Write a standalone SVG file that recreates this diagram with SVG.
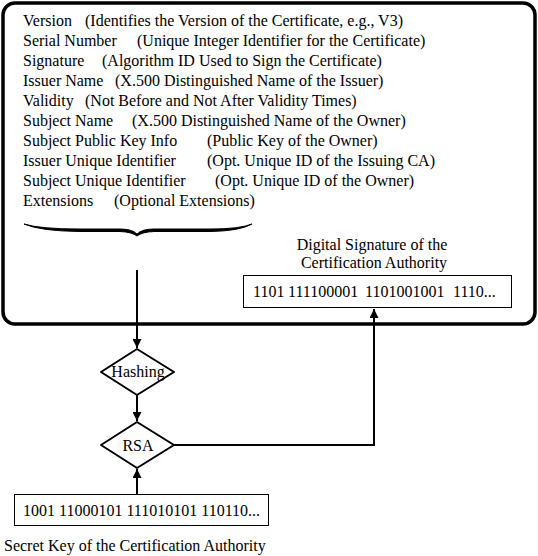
<svg xmlns="http://www.w3.org/2000/svg" width="538" height="556" viewBox="0 0 538 556">
<defs>
<style>
text{font-family:"Liberation Serif","Times New Roman",serif;font-size:16px;fill:#000}
.box{fill:#fff;stroke:#000;stroke-width:1}
.dia{fill:#fff;stroke:#000;stroke-width:2;stroke-linejoin:round}
.conn{fill:none;stroke:#000;stroke-width:2}
</style>
<marker id="ah" viewBox="0 0 10 10" refX="10" refY="5" markerWidth="5" markerHeight="4.5" orient="auto" markerUnits="strokeWidth">
<path d="M0,0 L10,5 L0,10 z" fill="#000"/>
</marker>
</defs>
<rect width="538" height="556" fill="#fff"/>
<g id="certificate">
<rect x="3" y="3" width="532" height="321" rx="12" ry="12" fill="#fff" stroke="#000" stroke-width="3.5"/>
<text y="26"><tspan x="23">Version</tspan><tspan x="85">(Identifies the Version of the Certificate, e.g., V3)</tspan></text>
<text y="46"><tspan x="23">Serial Number</tspan><tspan x="137">(Unique Integer Identifier for the Certificate)</tspan></text>
<text y="66"><tspan x="23">Signature</tspan><tspan x="102">(Algorithm ID Used to Sign the Certificate)</tspan></text>
<text y="86"><tspan x="23">Issuer Name</tspan><tspan x="115">(X.500 Distinguished Name of the Issuer)</tspan></text>
<text y="106"><tspan x="23">Validity</tspan><tspan x="85">(Not Before and Not After Validity Times)</tspan></text>
<text y="126"><tspan x="23">Subject Name</tspan><tspan x="132">(X.500 Distinguished Name of the Owner)</tspan></text>
<text y="146"><tspan x="23">Subject Public Key Info</tspan><tspan x="207">(Public Key of the Owner)</tspan></text>
<text y="166"><tspan x="23">Issuer Unique Identifier</tspan><tspan x="207">(Opt. Unique ID of the Issuing CA)</tspan></text>
<text y="186"><tspan x="23">Subject Unique Identifier</tspan><tspan x="215">(Opt. Unique ID of the Owner)</tspan></text>
<text y="206"><tspan x="23">Extensions</tspan><tspan x="114">(Optional Extensions)</tspan></text>
<path d="M24,224 Q40,229 80,229 L120,229 Q132,229 137,234 Q142,229 154,229 L210,229 Q240,229 252,224 Q240,231 210,231.5 L154,231.5 Q142,232 137,236 Q132,232 120,231.5 L80,231.5 Q40,231 24,224 z" fill="#000" stroke="#000" stroke-width="1"/>
</g>
<g id="signature">
<text x="372" y="250" text-anchor="middle">Digital Signature of the</text>
<text x="374" y="268" text-anchor="middle">Certification Authority</text>
<rect class="box" x="243.5" y="275.5" width="268" height="32"/>
<text y="297"><tspan x="253">1101</tspan><tspan x="288">111100001</tspan><tspan x="365">1101001001</tspan><tspan x="453">1110...</tspan></text>
</g>
<g id="hashing">
<path class="dia" d="M137,349 L174,372 L137,395 L101,372 z"/>
<text x="138" y="377" text-anchor="middle">Hashing</text>
</g>
<g id="rsa">
<path class="dia" d="M137,422 L174,445 L137,468 L101,445 z"/>
<text x="138" y="451" text-anchor="middle">RSA</text>
</g>
<g id="secret-key">
<rect class="box" x="14.5" y="494.5" width="254" height="31"/>
<text x="23" y="516">1001 11000101 111010101 110110...</text>
<text x="4" y="551">Secret Key of the Certification Authority</text>
</g>
<g id="connectors">
<path class="conn" d="M137,270 L137,348" marker-end="url(#ah)"/>
<path class="conn" d="M137,395 L137,421" marker-end="url(#ah)"/>
<path class="conn" d="M137,494 L137,469" marker-end="url(#ah)"/>
<path class="conn" d="M174,445 L374,445 L374,309" marker-end="url(#ah)"/>
</g>
</svg>
